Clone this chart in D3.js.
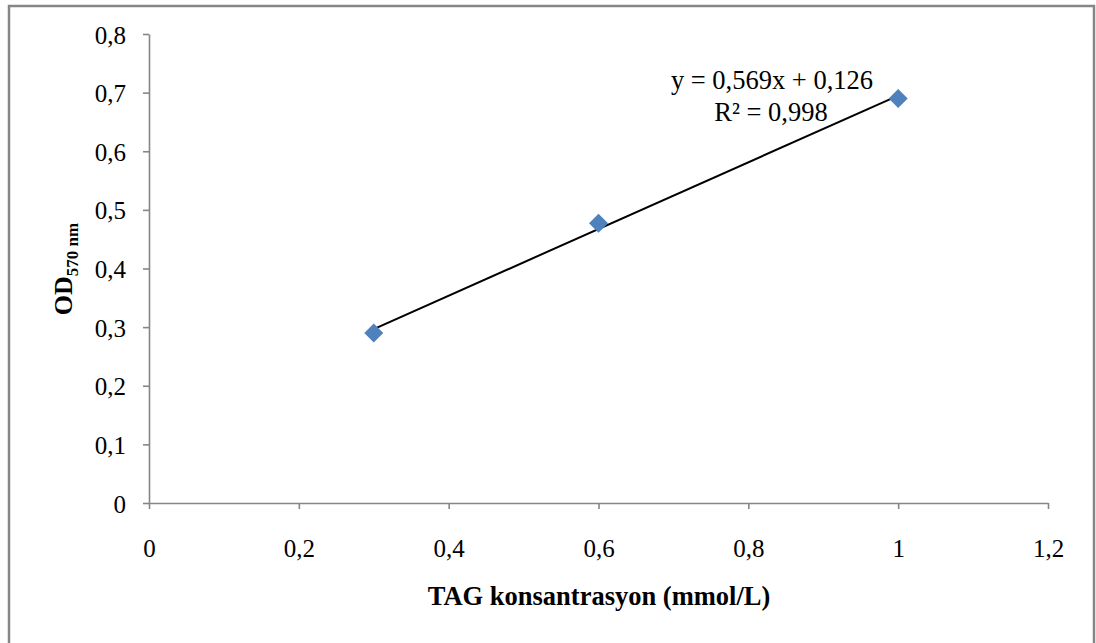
<!DOCTYPE html>
<html>
<head>
<meta charset="utf-8">
<script src="https://cdn.jsdelivr.net/npm/d3@7"></script>
<style>
  html, body { margin: 0; padding: 0; background: #fff; }
  svg { display: block; }
  text { font-family: "Liberation Serif", "Times New Roman", serif; fill: #000; }
</style>
</head>
<body>
<svg id="chart" width="1096" height="643"></svg>
<script>
// Standard curve: TAG concentration vs optical density at 570 nm
const concentrations = [0.3, 0.6, 1.0];
const odValues = [0.29, 0.477, 0.69];
const xTickValues = [0, 0.2, 0.4, 0.6, 0.8, 1.0, 1.2];
const yTickValues = [0, 0.1, 0.2, 0.3, 0.4, 0.5, 0.6, 0.7, 0.8];
const fitSlope = 0.569;
const fitIntercept = 0.126;
const fitR2 = 0.998;

const fmt = v => String(+v.toFixed(3)).replace(".", ",");

const svg = d3.select("#chart");

// outer chart frame
svg.append("rect")
  .attr("x", 9).attr("y", 6)
  .attr("width", 1085).attr("height", 680)
  .attr("fill", "none")
  .attr("stroke", "#868686")
  .attr("stroke-width", 2.5);

const plot = { left: 149, right: 1048, top: 34, bottom: 503 };

const x = d3.scaleLinear().domain([0, 1.2]).range([plot.left, plot.right]);
const y = d3.scaleLinear().domain([0, 0.8]).range([plot.bottom, plot.top]);

const axisColor = "#868686";

// x axis
const xAxis = svg.append("g")
  .attr("transform", `translate(0,${plot.bottom})`)
  .call(d3.axisBottom(x).tickValues(xTickValues).tickSize(6).tickSizeOuter(0).tickPadding(30).tickFormat(fmt));

// y axis
const yAxis = svg.append("g")
  .attr("transform", `translate(${plot.left},0)`)
  .call(d3.axisLeft(y).tickValues(yTickValues).tickSize(6).tickSizeOuter(0).tickPadding(17).tickFormat(fmt));

[xAxis, yAxis].forEach(g => {
  g.select(".domain").attr("stroke", axisColor).attr("stroke-width", 1.6);
  g.selectAll(".tick line").attr("stroke", axisColor).attr("stroke-width", 1.6);
  g.selectAll(".tick text")
    .style("font-family", '"Liberation Serif", "Times New Roman", serif')
    .style("font-size", "25px")
    .attr("fill", "#000");
});
yAxis.selectAll(".tick text").attr("dy", "0.36em");

// linear trendline across the measured range
const fitX = d3.extent(concentrations);
svg.append("line")
  .attr("x1", x(fitX[0])).attr("y1", y(fitSlope * fitX[0] + fitIntercept))
  .attr("x2", x(fitX[1])).attr("y2", y(fitSlope * fitX[1] + fitIntercept))
  .attr("stroke", "#000")
  .attr("stroke-width", 2);

// data markers
const diamond = d3.symbol().type(d3.symbolDiamond2).size(230);
svg.append("g").selectAll("path")
  .data(concentrations.map((c, i) => [c, odValues[i]]))
  .join("path")
  .attr("d", diamond)
  .attr("transform", d => `translate(${x(d[0])},${y(d[1])})`)
  .attr("fill", "#4F81BD");

// regression label
const eq = svg.append("text")
  .attr("text-anchor", "middle")
  .style("font-size", "26.5px");
eq.append("tspan").attr("x", 772).attr("y", 89)
  .text(`y = ${fmt(fitSlope)}x + ${fmt(fitIntercept)}`);
eq.append("tspan").attr("x", 771).attr("y", 121)
  .text(`R² = ${fmt(fitR2)}`);

// axis titles
svg.append("text")
  .attr("x", 599).attr("y", 605)
  .attr("text-anchor", "middle")
  .style("font-size", "26.5px")
  .style("font-weight", "bold")
  .text("TAG konsantrasyon (mmol/L)");

const yTitle = svg.append("text")
  .attr("transform", "translate(72,269) rotate(-90)")
  .attr("text-anchor", "middle")
  .style("font-weight", "bold")
  .style("font-size", "26px");
yTitle.append("tspan").text("OD");
yTitle.append("tspan").attr("dy", 6).style("font-size", "17px").text("570 nm");
</script>
</body>
</html>
